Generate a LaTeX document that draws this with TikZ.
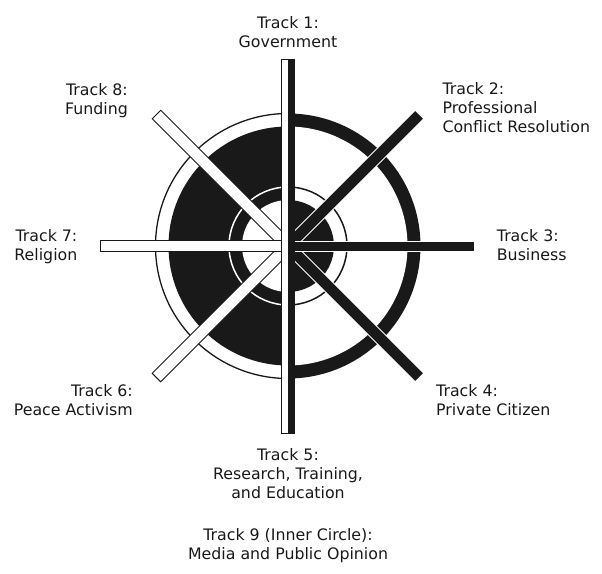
\documentclass[tikz,border=0pt]{standalone}
\usepackage{fontspec}
\setmainfont{DejaVu Sans}
\definecolor{ink}{gray}{0.1}
\tikzset{
  lbl/.style={font=\fontsize{15.8}{19}\selectfont, inner sep=0pt, text=ink},
  wbar/.style={fill=white, draw=ink, line width=1pt},
  bbar/.style={fill=ink, draw=white, line width=0.8pt},
}
\begin{document}
\begin{tikzpicture}[x=1pt,y=-1pt]
\useasboundingbox (0,0) rectangle (602,573);
\coordinate (C) at (288,246);
% left half: black disc, white rings
\begin{scope}
  \clip (0,0) rectangle (288,573);
  \fill[ink] (C) circle (119.5pt);
  \draw[white, line width=1.5pt] (C) circle (59pt);
  \fill[white] (C) circle (46pt);
  \draw[ink, line width=1.3pt] (C) circle (132.5pt);
\end{scope}
% right half: the negative
\begin{scope}
  \clip (288,0) rectangle (602,573);
  \fill[ink] (C) circle (132.5pt);
  \fill[white] (C) circle (119.5pt);
  \draw[ink, line width=1.5pt] (C) circle (59pt);
  \fill[ink] (C) circle (46pt);
\end{scope}
% diagonal spokes
\draw[bbar, rotate around={45:(C)}] (288,240) rectangle (474,252);
\draw[bbar, rotate around={-45:(C)}] (288,240) rectangle (474,252);
\draw[wbar, rotate around={135:(C)}] (288,240) rectangle (474,252);
\draw[wbar, rotate around={225:(C)}] (288,240) rectangle (474,252);
% horizontal spokes
\draw[wbar] (100.5,240.8) rectangle (288,251.8);
\draw[bbar] (288,241) rectangle (474.5,251.5);
% vertical spoke
\draw[wbar] (281.5,59) rectangle (294.5,433);
\fill[ink] (288,59) rectangle (294.5,433);
% labels (base anchor = baseline of the last line)
\node[lbl, anchor=base, align=center] (t1) at (288,47.7) {Track 1:\\Government};
\node[lbl, anchor=base west, align=left] (t2) at (442.3,132.5) {Track 2:\\Professional\\Conflict Resolution};
\node[lbl, anchor=base west, align=left] (t3) at (496.7,260.5) {Track 3:\\Business};
\node[lbl, anchor=base west, align=left] (t4) at (436,415.7) {Track 4:\\Private Citizen};
\node[lbl, anchor=base, align=center] (t5) at (288,498.7) {Track 5:\\Research, Training,\\and Education};
\node[lbl, anchor=base east, align=right] (t6) at (133,415.3) {Track 6:\\Peace Activism};
\node[lbl, anchor=base east, align=right] (t7) at (77.5,260.5) {Track 7:\\Religion};
\node[lbl, anchor=base east, align=right] (t8) at (128,114.3) {Track 8:\\Funding};
\node[lbl, anchor=base, align=center] (t9) at (288,559) {Track 9 (Inner Circle):\\Media and Public Opinion};
\end{tikzpicture}
\end{document}
